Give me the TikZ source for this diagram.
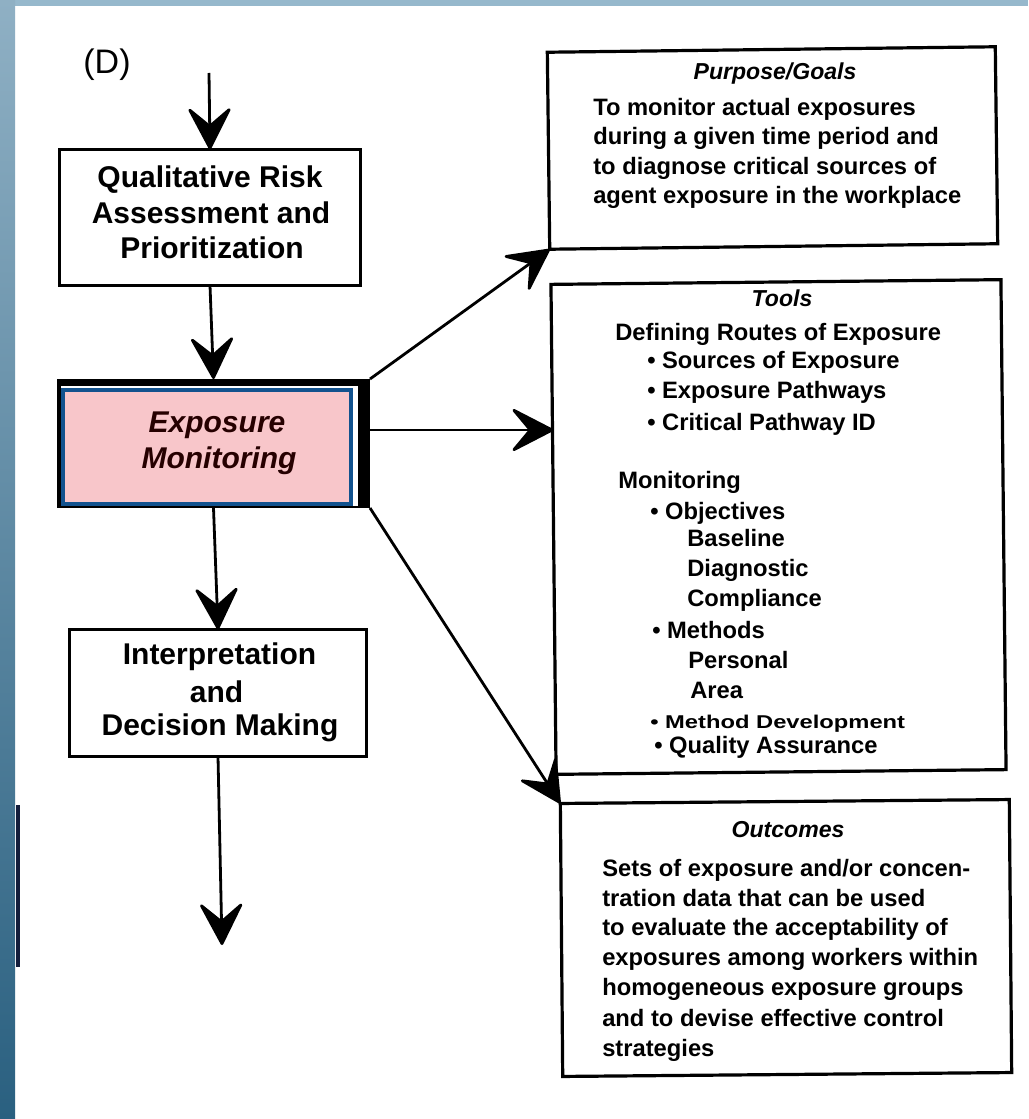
\documentclass[tikz,border=0pt]{standalone}
\usepackage{fontspec}
\setmainfont{Liberation Sans}
\usetikzlibrary{arrows.meta}
\definecolor{pinkfill}{RGB}{248,198,202}
\definecolor{bluebd}{RGB}{18,82,142}
\definecolor{striptop}{RGB}{150,184,204}
\definecolor{stripmid}{RGB}{143,176,196}
\definecolor{stripbot}{RGB}{42,96,128}
\definecolor{edgeline}{RGB}{20,30,60}
\begin{document}
\begin{tikzpicture}[x=0.75pt,y=-0.75pt,
  box/.style={draw=black, line width=2.4pt, fill=white, inner sep=0pt, outer sep=0pt},
  arr/.style={line width=2.1pt, -{Stealth[length=35pt,width=36pt,inset=15pt,round]}},
  lt/.style={inner sep=0pt, text height=16.2pt, text depth=0pt, font=\bfseries\fontsize{22.5}{27}\selectfont},
  emt/.style={lt, font=\bfseries\itshape\fontsize{22.5}{27}\selectfont, text=black!85!red},
  rt/.style={inner sep=0pt, text height=12.8pt, text depth=0pt, anchor=west, font=\bfseries\fontsize{17.8}{22}\selectfont},
  rtitle/.style={inner sep=0pt, text height=12.5pt, text depth=0pt, font=\bfseries\itshape\fontsize{17.3}{22}\selectfont}
]
\useasboundingbox (0,0) rectangle (1028,1119);
\fill[white] (0,0) rectangle (1028,1119);
\fill[striptop] (0,0) rectangle (1028,6);
\shade[top color=stripmid, bottom color=stripbot] (0,0) rectangle (15,1119);
\draw[edgeline, line width=3pt] (17.5,805) -- (17.5,967);

% label
\node[inner sep=0pt, text height=18pt, text depth=0pt, font=\fontsize{25.5}{30}\selectfont] (lblD) at (107,62) {(D)};

% left column boxes
\node[box, minimum width={301*0.75pt}, minimum height={136*0.75pt}] (Q) at (210,217.5) {};
\node[fill=black, inner sep=0pt, outer sep=0pt, minimum width={313*0.75pt}, minimum height={129*0.75pt}] (EM) at (213.5,443.5) {};
\fill[white] (61,386) rectangle (358,506);
\node[draw=bluebd, fill=pinkfill, line width=3pt, inner sep=0pt, minimum width={288*0.75pt}, minimum height={114*0.75pt}] (EMin) at (207,447) {};
\node[box, minimum width={297*0.75pt}, minimum height={127*0.75pt}] (I) at (218,693) {};

% right column boxes
\node[box, rotate=0.7, minimum width={448*0.75pt}, minimum height={197*0.75pt}] (P) at (772.5,148) {};
\node[box, rotate=0.6, minimum width={450*0.75pt}, minimum height={490*0.75pt}] (T) at (778.5,527) {};
\node[box, rotate=0.5, minimum width={449*0.75pt}, minimum height={273*0.75pt}] (O) at (786,938) {};

% texts left
\node[lt] (q1) at (210,177) {Qualitative Risk};
\node[lt] (q2) at (211,213) {Assessment and};
\node[lt] (q3) at (212,248) {Prioritization};
\node[emt] (e1) at (217,422) {Exposure};
\node[emt] (e2) at (219,458) {Monitoring};
\node[lt] (i1) at (219.5,654) {Interpretation};
\node[lt] (i2) at (216.5,692) {and};
\node[lt] (i3) at (220,725) {Decision Making};

% purpose
\node[rtitle] (p0) at (775,71) {Purpose/Goals};
\node[rt] (p1) at (593,107) {To monitor actual exposures};
\node[rt] (p2) at (593,136) {during a given time period and};
\node[rt] (p3) at (593,166) {to diagnose critical sources of};
\node[rt] (p4) at (593,195) {agent exposure in the workplace};

% tools
\node[rtitle] (t0) at (782,298) {Tools};
\node[rt] (t1) at (615,332) {Defining Routes of Exposure};
\node[rt] (t2) at (647,360) {• Sources of Exposure};
\node[rt] (t3) at (647,390) {• Exposure Pathways};
\node[rt] (t4) at (647,422) {• Critical Pathway ID};
\node[rt] (t5) at (618,480) {Monitoring};
\node[rt] (t6) at (650,511) {• Objectives};
\node[rt] (t7) at (687,538) {Baseline};
\node[rt] (t8) at (687,568) {Diagnostic};
\node[rt] (t9) at (687,598) {Compliance};
\node[rt] (t10) at (652,630) {• Methods};
\node[rt] (t11) at (688,660) {Personal};
\node[rt] (t12) at (690,690) {Area};
\node[rt] (t13) at (650,720) {\scalebox{1}[0.78]{• Method Development}};
\node[rt] (t14) at (654,745) {• Quality Assurance};

% outcomes
\node[rtitle] (o0) at (788,829) {Outcomes};
\node[rt] (o1) at (602,868) {Sets of exposure and/or concen-};
\node[rt] (o2) at (602,898) {tration data that can be used};
\node[rt] (o3) at (602,927) {to evaluate the acceptability of};
\node[rt] (o4) at (602,957) {exposures among workers within};
\node[rt] (o5) at (602,987) {homogeneous exposure groups};
\node[rt] (o6) at (602,1018) {and to devise effective control};
\node[rt] (o7) at (602,1048) {strategies};

% connectors
\coordinate (topc) at (209,73);
\coordinate (botc) at (222,945);
\coordinate (hy) at (0,430);
\draw[arr] (topc) -- (Q.north);
\draw[arr] (Q.south) -- (EM.north);
\draw[arr] (EM.south) -- (I.north);
\draw[arr] (I.south) -- (botc);
\draw[arr] (EM.north east) -- (P.south west);
\draw[arr] (EM.east |- hy) -- (T.west |- hy);
\draw[arr] (EM.south east) -- (O.north west);
\end{tikzpicture}
\end{document}
